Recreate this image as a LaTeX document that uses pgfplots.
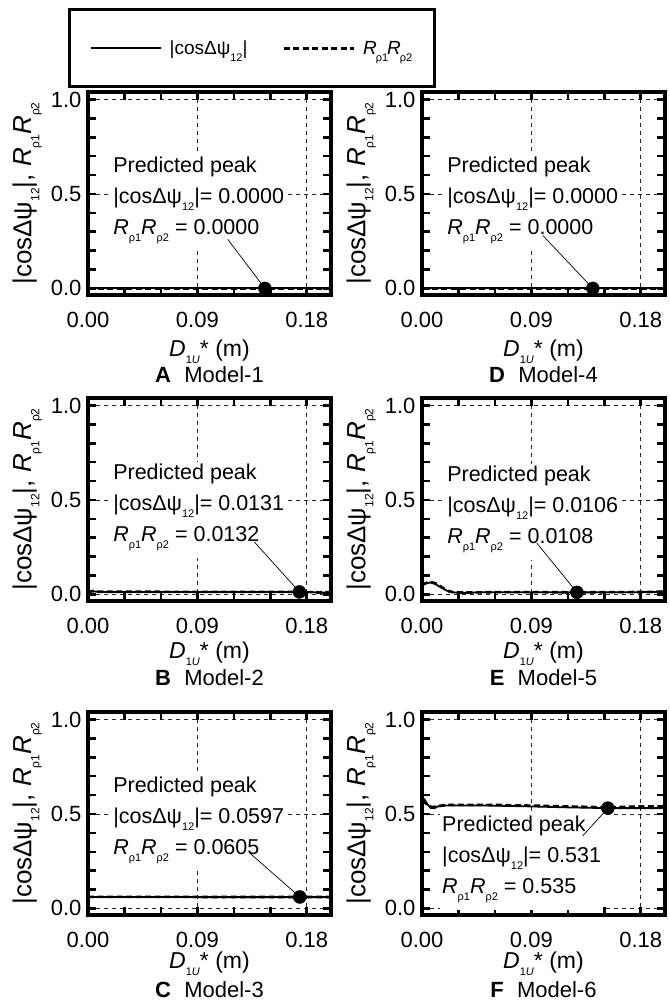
\documentclass[border=0pt]{standalone}
\usepackage{fontspec}
\setmainfont{Liberation Sans}
\usepackage{pgfplots}
\pgfplotsset{compat=1.18}

\newcommand{\sub}[1]{\raisebox{-7pt}{\fontsize{11}{11}\selectfont #1}}
\newcommand{\subL}[1]{\raisebox{-8pt}{\fontsize{12}{12}\selectfont #1}}
\newcommand{\peak}[2]{Predicted peak\\|cosΔψ\sub{12}|= #1\\\textit{R}\sub{ρ1}\textit{R}\sub{ρ2} = #2\rule[-14pt]{0pt}{14pt}}

\tikzset{
  peakbox/.style={anchor=north west, align=left, fill=white, inner sep=2pt, font=\fontsize{21.5}{31}\selectfont},
  leader/.style={black, line width=0.7pt},
  ptitle/.style={font=\fontsize{22}{22}\selectfont},
}
\pgfplotsset{
  panel/.style={
    scale only axis, width=243pt, height=203pt,
    anchor=north west,
    xmin=0, xmax=0.2, ymin=-0.035, ymax=1.04,
    xtick={0,0.09,0.18}, ytick={0,0.5,1},
    xticklabels={0.00,0.09,0.18}, yticklabels={0.0,0.5,1.0},
    minor x tick num=2, minor y tick num=4,
    tick align=inside,
    major tick length=8pt, minor tick length=8pt,
    tick style={line width=2.5pt, black},
    axis line style={line width=3.5pt},
    grid=major,
    major grid style={dash pattern=on 4pt off 4pt, line width=0.8pt, black!85},
    tick label style={font=\fontsize{22}{22}\selectfont},
    xticklabel style={yshift=-14pt},
    yticklabel style={xshift=-3pt},
    label style={font=\fontsize{23}{23}\selectfont},
    ylabel={|cosΔψ\subL{12}|, \textit{R}\subL{ρ1}\textit{R}\subL{ρ2}},
    ylabel style={at={(axis description cs:-0.25,0.5)}, anchor=center, font=\fontsize{26}{26}\selectfont},
    xlabel={\textit{D}\sub{1\textit{U}}* (m)},
    xlabel style={at={(axis description cs:0.5,0)}, anchor=center, yshift=-53pt},
    clip=false,
  },
  row1/.style={xlabel style={yshift=-4pt}},
  row3/.style={xlabel style={yshift=4pt}},
  solidline/.style={black, line width=1.8pt},
  dashline/.style={black, line width=2.6pt, dash pattern=on 6pt off 3.5pt},
  peakmark/.style={only marks, mark=*, mark size=6.5pt, black, forget plot},
}

\begin{document}
\begin{tikzpicture}
\path[use as bounding box] (0,0) rectangle (669pt,-1008pt);

% ---------------- A ----------------
\begin{axis}[panel, row1, at={(88pt,-92pt)},
  legend image code/.code={\draw[#1] (0pt,0pt) -- (70pt,0pt);},
  legend columns=4,
  legend style={at={(axis description cs:0.675,1.215)}, anchor=center,
    draw=black, line width=3pt, inner xsep=20pt, inner ysep=29pt,
    font=\fontsize{19}{19}\selectfont,
    nodes={inner sep=2pt},
    /tikz/every odd column/.append style={column sep=6pt},
    /tikz/every even column/.append style={column sep=33pt}}]
\addplot[solidline] coordinates {(0,0)(0.2,0)};
\addlegendentry{|cosΔψ\sub{12}|}
\addplot[dashline] coordinates {(0,0)(0.2,0)};
\addlegendentry{\textit{R}\hspace{-1pt}\sub{ρ1}\hspace{-1pt}\textit{R}\hspace{-1pt}\sub{ρ2}}
\node[peakbox] at (axis cs:0.019,0.71) {\peak{0.0000}{0.0000}};
\draw[leader] (axis cs:0.115,0.26) -- (axis cs:0.1456,0);
\addplot[peakmark] coordinates {(0.1456,0)};
\node[ptitle, yshift=-80pt] at (rel axis cs:0.5,0) {\textbf{A}\hspace{0.6em}Model-1};
\end{axis}

% ---------------- D ----------------
\begin{axis}[panel, row1, at={(422pt,-92pt)}]
\addplot[solidline] coordinates {(0,0)(0.2,0)};
\addplot[dashline] coordinates {(0,0)(0.2,0)};
\node[peakbox] at (axis cs:0.019,0.71) {\peak{0.0000}{0.0000}};
\draw[leader] (axis cs:0.0995,0.28) -- (axis cs:0.1406,0);
\addplot[peakmark] coordinates {(0.1406,0)};
\node[ptitle, yshift=-80pt] at (rel axis cs:0.5,0) {\textbf{D}\hspace{0.6em}Model-4};
\end{axis}

% ---------------- B ----------------
\begin{axis}[panel, at={(88pt,-398pt)}]
\addplot[solidline] coordinates {(0,0.010)(0.003,0.016)(0.006,0.015)(0.010,0.012)(0.02,0.013)(0.05,0.013)(0.09,0.013)(0.13,0.013)(0.174,0.0131)(0.185,0.012)(0.19,0.008)(0.195,0.010)(0.2,0.011)};
\addplot[dashline] coordinates {(0,0.012)(0.004,0.018)(0.008,0.015)(0.02,0.014)(0.05,0.014)(0.09,0.013)(0.13,0.013)(0.174,0.0132)(0.19,0.011)(0.2,0.012)};
\node[peakbox] at (axis cs:0.019,0.70) {\peak{0.0131}{0.0132}};
\draw[leader] (axis cs:0.137,0.277) -- (axis cs:0.174,0.0132);
\addplot[peakmark] coordinates {(0.174,0.0132)};
\node[ptitle, yshift=-77pt] at (rel axis cs:0.5,0) {\textbf{B}\hspace{0.6em}Model-2};
\end{axis}

% ---------------- E ----------------
\begin{axis}[panel, at={(422pt,-398pt)}]
\addplot[solidline] coordinates {(0,0.045)(0.003,0.058)(0.007,0.063)(0.011,0.055)(0.016,0.035)(0.021,0.018)(0.026,0.010)(0.035,0.008)(0.05,0.011)(0.07,0.012)(0.10,0.011)(0.1275,0.0106)(0.15,0.011)(0.18,0.012)(0.2,0.014)};
\addplot[dashline] coordinates {(0,0.050)(0.004,0.062)(0.008,0.065)(0.012,0.056)(0.017,0.035)(0.022,0.017)(0.027,0.010)(0.04,0.010)(0.06,0.012)(0.09,0.012)(0.1275,0.0108)(0.16,0.012)(0.19,0.013)(0.2,0.016)};
\node[peakbox] at (axis cs:0.019,0.69) {\peak{0.0106}{0.0108}};
\draw[leader] (axis cs:0.0946,0.271) -- (axis cs:0.1275,0.0108);
\addplot[peakmark] coordinates {(0.1275,0.0108)};
\node[ptitle, yshift=-77pt] at (rel axis cs:0.5,0) {\textbf{E}\hspace{0.6em}Model-5};
\end{axis}

% ---------------- C ----------------
\begin{axis}[panel, row3, at={(88pt,-712pt)}]
\addplot[solidline] coordinates {(0,0.060)(0.05,0.060)(0.10,0.0598)(0.174,0.0597)(0.2,0.0597)};
\addplot[dashline] coordinates {(0,0.061)(0.05,0.061)(0.10,0.0606)(0.174,0.0605)(0.2,0.0605)};
\node[peakbox] at (axis cs:0.019,0.71) {\peak{0.0597}{0.0605}};
\draw[leader] (axis cs:0.133,0.294) -- (axis cs:0.1743,0.0605);
\addplot[peakmark] coordinates {(0.1743,0.0605)};
\node[ptitle, yshift=-75pt] at (rel axis cs:0.5,0) {\textbf{C}\hspace{0.6em}Model-3};
\end{axis}

% ---------------- F ----------------
\begin{axis}[panel, row3, at={(422pt,-712pt)}]
\addplot[solidline] coordinates {(0,0.580)(0.002,0.578)(0.004,0.555)(0.007,0.532)(0.010,0.530)(0.013,0.540)(0.02,0.545)(0.05,0.545)(0.09,0.540)(0.12,0.535)(0.153,0.531)(0.18,0.531)(0.2,0.531)};
\addplot[dashline] coordinates {(0,0.570)(0.004,0.552)(0.008,0.536)(0.012,0.541)(0.02,0.548)(0.06,0.548)(0.10,0.543)(0.153,0.535)(0.18,0.540)(0.2,0.540)};
\node[peakbox] at (axis cs:0.0148,0.50) {\peak{0.531}{0.535}};
\draw[leader] (axis cs:0.1324,0.385) -- (axis cs:0.153,0.531);
\addplot[peakmark] coordinates {(0.153,0.531)};
\node[ptitle, yshift=-75pt] at (rel axis cs:0.5,0) {\textbf{F}\hspace{0.6em}Model-6};
\end{axis}
\end{tikzpicture}
\end{document}
